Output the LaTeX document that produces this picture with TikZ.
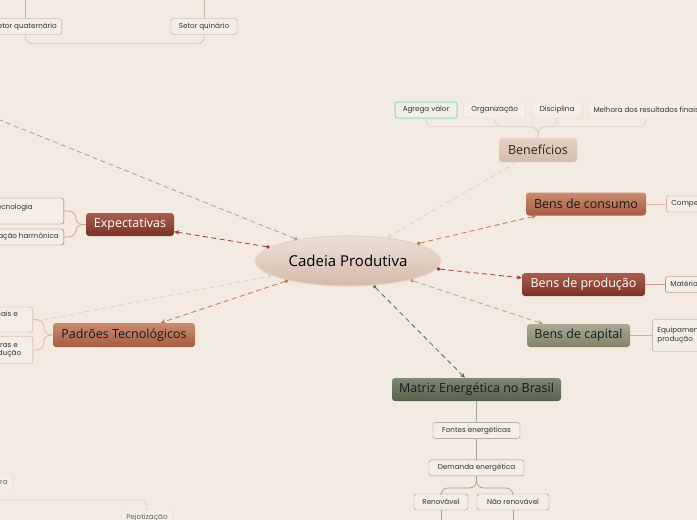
\documentclass[tikz,border=0pt]{standalone}
\usepackage{fontspec}
\setmainfont{Open Sans}
\newfontfamily\leaffont{Poppins}
\usetikzlibrary{arrows.meta,positioning,shapes.geometric}

\definecolor{paper}{HTML}{F3EBE2}
\definecolor{leafbg}{HTML}{F5EEE7}
\definecolor{tanA}{HTML}{E6D3C6}
\definecolor{tanB}{HTML}{D2BBAB}
\definecolor{rustA}{HTML}{CB8C70}
\definecolor{rustB}{HTML}{A65C41}
\definecolor{wineA}{HTML}{AA5D4E}
\definecolor{wineB}{HTML}{7A3226}
\definecolor{oliveA}{HTML}{A9AA95}
\definecolor{oliveB}{HTML}{80826A}
\definecolor{mossA}{HTML}{7F8873}
\definecolor{mossB}{HTML}{56614B}
\definecolor{rustline}{HTML}{C9714F}
\definecolor{wineline}{HTML}{9B3E30}
\definecolor{oliveline}{HTML}{A6A48E}
\definecolor{mossline}{HTML}{5E6657}
\definecolor{tanline}{HTML}{E3D2C3}
\definecolor{teal}{HTML}{86DCCB}

\begin{document}
\begin{tikzpicture}[x=1pt, y=-1pt,
    node distance=20pt,
    branch/.style={rounded corners=3pt, font=\fontsize{12.5}{14}\selectfont,
                   minimum height=23pt, inner xsep=6pt},
    leaf/.style={draw, rounded corners=2.5pt, fill=leafbg, text=black!80,
                 font=\leaffont\fontsize{7.2}{8.8}\selectfont,
                 minimum height=16pt, inner xsep=5pt, inner ysep=2pt},
    link/.style={dash pattern=on 5pt off 3.5pt, line width=0.8pt,
                 {Circle[length=3.5pt]}-{Stealth[length=5pt,width=4.5pt]}},
    backlink/.style={link, -{Stealth[length=5pt,width=4.5pt]}},
    twig/.style={line width=0.8pt, rounded corners=7pt}
]
\useasboundingbox (0,0) rectangle (697,520);
\fill[paper] (0,0) rectangle (697,520);
\clip (0,0) rectangle (697,520);

% centro
\node[ellipse, minimum width=185pt, minimum height=50pt, draw=tanA, line width=1.2pt,
      top color=tanA!70, bottom color=tanB, font=\fontsize{15}{17}\selectfont]
    (cadeia) at (348,261) {Cadeia Produtiva};

% ramos
\node[branch, minimum width=78pt, minimum height=24pt, top color=tanA, bottom color=tanB,
      text=black!85] (benef) at (538,150) {Benefícios};
\node[branch, minimum width=120pt, top color=rustA, bottom color=rustB, text=black!90]
    (consumo) at (586,204) {Bens de consumo};
\node[branch, minimum width=123pt, top color=wineA, bottom color=wineB, text=white]
    (producao) at (583.5,284.5) {Bens de produção};
\node[branch, minimum width=103pt, top color=oliveA, bottom color=oliveB, text=black!90]
    (capital) at (578.5,335.5) {Bens de capital};
\node[branch, minimum width=169pt, top color=mossA, bottom color=mossB, text=black!90]
    (matriz) at (476.5,389.5) {Matriz Energética no Brasil};
\node[branch, minimum width=88pt, top color=wineA, bottom color=wineB, text=white]
    (expect) at (130,224.5) {Expectativas};
\node[branch, minimum width=142pt, minimum height=24pt, top color=rustA, bottom color=rustB,
      text=black!90] (padroes) at (124,335) {Padrões Tecnológicos};

% ligacoes ao centro
\coordinate (farNW) at (-40,104);
\coordinate (farW) at (-40,336);
\draw[link, oliveline] (cadeia.157) -- (farNW);
\draw[backlink, tanline] (farW) -- (cadeia.191);
\draw[backlink, tanline] (benef) -- (cadeia.31);
\draw[link, wineline] (cadeia.170) -- (expect);
\draw[link, rustline] (cadeia.198) -- (padroes);
\draw[link, rustline] (cadeia.14) -- (consumo);
\draw[link, wineline] (cadeia.355) -- (producao);
\draw[link, oliveline] (cadeia.343) -- (capital);
\draw[link, mossline] (cadeia.316) -- (matriz);

% beneficios
\node[leaf, draw=teal, line width=1pt, minimum width=62pt] (agrega) at (426,110) {Agrega valor};
\node[leaf, draw=tanline, minimum width=62pt, right=6pt of agrega] (organizacao) {Organização};
\node[leaf, draw=tanline, minimum width=50pt, right=6pt of organizacao] (disciplina) {Disciplina};
\node[leaf, draw=tanline, right=6pt of disciplina] (melhora) {Melhora dos resultados finais};
\foreach \leafname in {agrega,organizacao,disciplina,melhora}
    \draw[twig, tanline] (benef.north) -- ++(0,-11) -| (\leafname.south);

% bens
\node[leaf, draw=rustA, right=20pt of consumo, text width=45pt, align=left] (compe) {Compe};
\node[leaf, draw=wineA, right=20pt of producao, text width=75pt, align=left] (materia) {Matéria-prima};
\node[leaf, draw=oliveline, right=22pt of capital, text width=85pt, align=left,
      minimum height=32pt] (equip) {Equipamentos de\\produção};
\draw[twig, rustA!60] (consumo) -- (compe);
\draw[twig, wineA!60] (producao) -- (materia);
\draw[twig, oliveline!80] (capital) -- (equip);

% matriz energetica
\node[leaf, draw=mossline!70, minimum width=87pt, below=21pt of matriz] (fontes) {Fontes energéticas};
\node[leaf, draw=mossline!70, minimum width=95pt, below=21pt of fontes] (demanda) {Demanda energética};
\node[leaf, draw=mossline!70, minimum width=54pt] (renov) at (441,502) {Renovável};
\node[leaf, draw=mossline!70, minimum width=72pt] (naorenov) at (513,502) {Não renovável};
\coordinate (renovOut) at (441,530);
\coordinate (naorenovOut) at (513,530);
\draw[twig, oliveline] (matriz) -- (fontes);
\draw[twig, oliveline] (fontes) -- (demanda);
\draw[twig, oliveline] (demanda.south) -- ++(0,12) -| (renov.north);
\draw[twig, oliveline] (demanda.south) -- ++(0,12) -| (naorenov.north);
\draw[twig, oliveline] (renov) -- (renovOut);
\draw[twig, oliveline] (naorenov) -- (naorenovOut);

% expectativas
\node[leaf, draw=wineA, anchor=east, align=left, minimum height=26pt]
    (tec) at (64,211) {Incorporação de nova tecnologia\hspace*{26pt}\\e};
\node[leaf, draw=wineA, anchor=east] (harm) at (64,237) {Integração harmônica};
\draw[twig, wineA!55] (expect.west) -- ++(-10,0) |- (tec.east);
\draw[twig, wineA!55] (expect.west) -- ++(-10,0) |- (harm.east);

% padroes tecnologicos
\node[leaf, draw=rustA!85, anchor=east, align=left, minimum height=25pt]
    (locais) at (33,319.5) {Arranjos produtivos locais e\hspace*{10pt}\\regionais};
\node[leaf, draw=rustA!85, anchor=east, align=left, minimum height=27pt]
    (estrut) at (33,350) {Novas estruturas e\hspace*{10pt}\\meios de produção};
\draw[twig, rustA!60] (padroes.west) -- ++(-9,0) |- (locais.east);
\draw[twig, rustA!60] (padroes.west) -- ++(-9,0) |- (estrut.east);

% setores
\node[leaf, draw=oliveline, minimum width=66pt] (quinario) at (204,26.5) {Setor quinário};
\node[leaf, draw=oliveline, anchor=east] (quaternario) at (62,26.5) {Setor quaternário};
\draw[twig, oliveline!80] (quinario.north) -- ++(0,-20);
\draw[twig, oliveline!80] (quaternario.north) -- ++(0,-20);
\draw[twig, oliveline!60] (quaternario.south) -- ++(0,9) -| (quinario.south);

% trabalho
\node[leaf, draw=tanline, text=black!60, anchor=east] (obra) at (13,482) {Mão de obra};
\node[leaf, draw=tanline, text=black!60] (pejot) at (147,518) {Pejotização};
\coordinate (pejotIn) at (-10,500);
\draw[twig, tanline] (pejotIn) -| (pejot.north);
\end{tikzpicture}
\end{document}
